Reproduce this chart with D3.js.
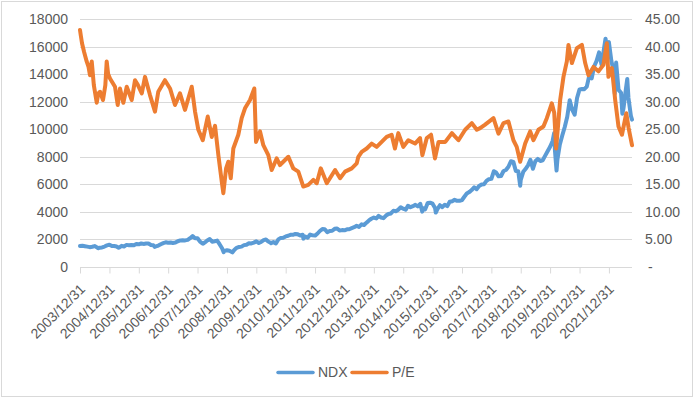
<!DOCTYPE html>
<html><head><meta charset="utf-8">
<script src="https://cdn.jsdelivr.net/npm/d3@7/dist/d3.min.js"></script>
<style>
body{margin:0;background:#fff}
text{font-family:"Liberation Sans",Arial,sans-serif;fill:#595959;font-size:14px}
</style>
</head><body>
<svg id="chart" width="694" height="398"></svg>
<script>
// ---- data (month "YYYY-MM" = month end; full dates for intra-month extremes) ----
const ndxDates = [
"2003-12",
"2004-01","2004-02","2004-03","2004-04","2004-05","2004-06","2004-07","2004-08-12","2004-08","2004-09","2004-10","2004-11","2004-12",
"2005-01","2005-02","2005-03","2005-04-20","2005-04","2005-05","2005-06","2005-07","2005-08","2005-09","2005-10","2005-11","2005-12",
"2006-01","2006-02","2006-03","2006-04","2006-05","2006-06","2006-07-17","2006-07","2006-08","2006-09","2006-10","2006-11","2006-12",
"2007-01","2007-02","2007-03","2007-04","2007-05","2007-06","2007-07","2007-08","2007-09","2007-10","2007-11","2007-12",
"2008-01","2008-02","2008-03-10","2008-03","2008-04","2008-05","2008-06","2008-07","2008-08","2008-09","2008-10","2008-11-20","2008-11","2008-12",
"2009-01","2009-02","2009-03-09","2009-03","2009-04","2009-05","2009-06","2009-07","2009-08","2009-09","2009-10","2009-11","2009-12",
"2010-01","2010-02","2010-03","2010-04","2010-05","2010-06","2010-07-02","2010-07","2010-08","2010-09","2010-10","2010-11","2010-12",
"2011-01","2011-02","2011-03","2011-04","2011-05","2011-06","2011-07","2011-08-08","2011-08","2011-09","2011-10","2011-11","2011-12",
"2012-01","2012-02","2012-03","2012-04","2012-05","2012-06","2012-07","2012-08","2012-09","2012-10","2012-11","2012-12",
"2013-01","2013-02","2013-03","2013-04","2013-05","2013-06","2013-07","2013-08","2013-09","2013-10","2013-11","2013-12",
"2014-01","2014-02","2014-03","2014-04","2014-05","2014-06","2014-07","2014-08","2014-09","2014-10","2014-11","2014-12",
"2015-01","2015-02","2015-03","2015-04","2015-05","2015-06","2015-07","2015-08-24","2015-08","2015-09","2015-10","2015-11","2015-12",
"2016-01","2016-02-09","2016-02","2016-03","2016-04","2016-05","2016-06","2016-07","2016-08","2016-09","2016-10","2016-11","2016-12",
"2017-01","2017-02","2017-03","2017-04","2017-05","2017-06","2017-07","2017-08","2017-09","2017-10","2017-11","2017-12",
"2018-01","2018-02","2018-03","2018-04","2018-05","2018-06","2018-07","2018-08","2018-09","2018-10","2018-11","2018-12-24","2018-12",
"2019-01","2019-02","2019-03","2019-04","2019-05","2019-06","2019-07","2019-08","2019-09","2019-10","2019-11","2019-12",
"2020-01","2020-02-19","2020-02","2020-03-20","2020-03","2020-04","2020-05","2020-06","2020-07","2020-08","2020-09","2020-10","2020-11","2020-12",
"2021-01","2021-02","2021-03","2021-04","2021-05","2021-06","2021-07","2021-08","2021-09","2021-10","2021-11-19","2021-11","2021-12",
"2022-01","2022-02","2022-03-14","2022-03","2022-04","2022-05","2022-06-16","2022-06","2022-07","2022-08-16","2022-08","2022-09","2022-10-14"
];
const ndxValues = [
1520,
1540,1510,1480,1440,1467,1517,1420,1360,1400,1420,1484,1566,1621,
1519,1519,1483,1400,1411,1534,1493,1605,1583,1601,1577,1669,1645,
1710,1676,1704,1701,1592,1575,1460,1489,1556,1654,1736,1793,1756,
1783,1746,1772,1870,1928,1934,1930,1967,2091,2239,2091,2085,
1840,1717,1690,1781,1929,2031,1837,1872,1916,1655,1357,1080,1172,1212,
1179,1095,1060,1237,1390,1455,1478,1587,1612,1718,1708,1770,1860,
1741,1816,1953,2000,1841,1740,1730,1806,1708,2003,2113,2127,2218,
2266,2335,2338,2402,2371,2288,2339,2060,2217,2129,2355,2296,2278,
2430,2614,2753,2741,2532,2616,2632,2772,2799,2646,2677,2661,
2731,2738,2818,2887,2987,2910,3096,3049,3219,3379,3502,3592,
3523,3710,3596,3546,3737,3850,3888,4082,4050,4158,4338,4236,
4152,4446,4333,4414,4509,4397,4588,4020,4275,4181,4648,4665,4593,
4279,3950,4202,4484,4341,4523,4418,4731,4772,4875,4801,4805,4864,
5119,5331,5436,5584,5788,5647,5880,5988,6005,6248,6373,6396,
6950,6856,6581,6605,6967,7040,7272,7677,7628,6967,6949,5900,6330,
6907,7108,7378,7781,7128,7672,7842,7693,7749,8084,8403,8733,
9151,9718,8462,7000,7813,8890,9556,10157,10905,12110,11418,11052,12268,12888,
12925,12909,13092,13861,13686,14554,14959,15582,14690,15850,16573,16135,16320,
14930,14237,12580,14838,12855,12643,11130,11504,12948,13650,12272,10971,10700
];
const peDates = [
"2003-12-31","2004-01-10","2004-01-25","2004-02-20","2004-03-23","2004-04-15","2004-05-03","2004-05-25","2004-06-20","2004-07-26",
"2004-08-15","2004-09-05","2004-10-12","2004-11-10","2004-11-27","2004-12-15","2005-01-07","2005-03-10","2005-04-13","2005-05-11",
"2005-06-22","2005-08-03","2005-10-04","2005-11-14","2005-12-20","2006-02-06","2006-03-18","2006-05-19","2006-07-20","2006-08-30",
"2006-11-21","2007-01-23","2007-03-26","2007-05-27","2007-07-28","2007-10-20","2007-11-30","2008-01-10","2008-03-05","2008-05-06",
"2008-06-25","2008-08-05","2008-09-15","2008-10-27","2008-11-16","2008-12-20","2009-01-17","2009-02-16","2009-03-20","2009-05-21",
"2009-07-02","2009-08-12","2009-10-13","2009-12-06","2009-12-27","2010-02-15","2010-03-28","2010-05-29","2010-07-10","2010-09-10",
"2010-10-21","2011-02-02","2011-04-04","2011-06-06","2011-08-07","2011-10-08","2011-12-10","2012-01-21","2012-03-11","2012-05-25",
"2012-09-05","2012-11-06","2013-01-07","2013-03-31","2013-06-01","2013-06-21","2013-08-02","2013-10-03","2013-12-04","2014-02-04",
"2014-04-07","2014-06-08","2014-08-09","2014-09-19","2014-10-31","2015-01-01","2015-03-04","2015-05-27","2015-07-28","2015-08-26",
"2015-10-20","2015-12-12","2016-01-30","2016-03-14","2016-06-06","2016-08-27","2016-11-17","2017-02-08","2017-05-02","2017-07-03",
"2017-08-13","2017-10-10","2018-01-26","2018-03-29","2018-05-30","2018-07-31","2018-10-01","2018-11-11","2018-12-24","2019-02-24",
"2019-04-27","2019-06-07","2019-08-08","2019-10-09","2019-11-20","2020-01-21","2020-02-20","2020-03-15","2020-05-04","2020-06-14",
"2020-07-26","2020-08-15","2020-09-27","2020-11-28","2021-01-29","2021-03-11","2021-04-21","2021-06-22","2021-08-23","2021-10-24",
"2021-12-05","2021-12-25","2022-02-06","2022-03-19","2022-04-29","2022-06-11","2022-08-04","2022-09-02","2022-10-14"
];
const peValues = [
43.0,42.0,40.6,39.0,37.3,36.3,34.8,37.3,33.0,29.8,
31.5,31.8,30.3,33.0,37.3,35.0,34.2,32.7,29.4,32.4,
29.8,32.7,30.3,33.9,33.0,31.5,34.5,31.2,28.2,31.8,
33.9,32.4,29.4,31.5,28.5,32.7,28.2,24.9,23.0,27.3,
23.6,25.6,20.3,15.5,13.4,17.9,19.1,16.1,21.5,24.0,
27.0,28.8,30.3,32.4,22.7,24.6,22.1,20.3,17.6,19.7,
18.5,20.0,17.9,17.3,14.6,14.9,15.8,15.2,17.9,15.2,
17.6,16.1,17.3,17.9,18.8,20.0,20.9,21.5,22.4,21.8,
22.7,23.6,24.0,21.5,24.3,21.8,23.0,22.4,23.4,20.3,
23.4,24.0,19.7,22.7,22.7,24.3,23.0,24.9,26.1,24.9,
25.2,25.8,27.0,24.2,26.1,26.4,23.0,21.8,19.1,22.4,
24.6,23.0,24.9,25.5,27.0,29.7,28.0,21.5,30.3,34.5,
37.3,40.3,37.0,39.7,40.3,37.0,34.8,36.3,35.5,36.7,
40.6,34.5,36.1,30.3,25.5,24.0,27.9,25.2,22.1
];
const leftTicks = [0,2000,4000,6000,8000,10000,12000,14000,16000,18000];
const rightTicks = [0,5,10,15,20,25,30,35,40,45];
const xTickDates = ["2003-12-31","2004-12-31","2005-12-31","2006-12-31","2007-12-31","2008-12-31","2009-12-31",
"2010-12-31","2011-12-31","2012-12-31","2013-12-31","2014-12-31","2015-12-31","2016-12-31","2017-12-31",
"2018-12-31","2019-12-31","2020-12-31","2021-12-31"];
const seriesNames = ["NDX","P/E"];
const seriesColors = ["#5B9BD5","#ED7D31"];

// ---- helpers ----
function parseD(s){
  if (s.length === 7){ const [y,m] = s.split("-").map(Number); return new Date(Date.UTC(y, m, 0)); }
  const [y,m,d] = s.split("-").map(Number); return new Date(Date.UTC(y, m-1, d));
}
const ndx = ndxDates.map((d,i)=>({date:parseD(d), v:ndxValues[i]})).sort((a,b)=>a.date-b.date);
const pe = peDates.map((d,i)=>({date:parseD(d), v:peValues[i]}));

const svg = d3.select("#chart");
const L = 80, R = 632, T = 19, B = 267;

svg.append("rect").attr("x",1.5).attr("y",1.5).attr("width",691).attr("height",395)
  .attr("fill","#fff").attr("stroke","#D9D9D9").attr("stroke-width",1);

const x = d3.scaleUtc().domain([parseD("2003-12-31"), parseD("2022-10-14")]).range([L, R]);
const yL = d3.scaleLinear().domain([0,18000]).range([B, T]);
const yR = d3.scaleLinear().domain([0,45]).range([B, T]);

// gridlines
svg.append("g").selectAll("line").data(leftTicks.slice(1)).join("line")
  .attr("x1",L).attr("x2",R).attr("y1",d=>Math.round(yL(d))+0.5).attr("y2",d=>Math.round(yL(d))+0.5)
  .attr("stroke","#D9D9D9").attr("stroke-width",1);

// left axis labels
const gl = svg.append("g").attr("transform",`translate(${L},0)`)
  .call(d3.axisLeft(yL).tickValues(leftTicks).tickSize(0).tickPadding(12).tickFormat(d3.format("d")));
gl.select(".domain").remove();
gl.selectAll("text").style("font-size","14px").attr("fill","#595959");

// right axis labels
const gr = svg.append("g").attr("transform",`translate(${R},0)`)
  .call(d3.axisRight(yR).tickValues(rightTicks).tickSize(0).tickPadding(13)
     .tickFormat(d=> d===0 ? "-" : d3.format(".2f")(d)));
gr.select(".domain").remove();
gr.selectAll("text").style("font-size","14px").attr("fill","#595959")
  .attr("dx", d=> d===0 ? 3 : 0);

// x axis
const xt = xTickDates.map(parseD);
const gx = svg.append("g").attr("transform",`translate(0,${B+0.5})`)
  .call(d3.axisBottom(x).tickValues(xt).tickSize(6).tickFormat(d3.utcFormat("%Y/%m/%d")));
gx.select(".domain").attr("stroke","#D9D9D9").attr("d",`M${L},0H${R}`);
gx.selectAll(".tick line").attr("stroke","#D9D9D9");
gx.selectAll(".tick text")
  .style("font-size","14px").attr("fill","#595959")
  .attr("text-anchor","end").attr("y",0).attr("dy","0.35em")
  .attr("transform","translate(2,19) rotate(-45)");

// lines
const lineL = d3.line().x(d=>x(d.date)).y(d=>yL(d.v)).curve(d3.curveLinear);
const lineR = d3.line().x(d=>x(d.date)).y(d=>yR(d.v)).curve(d3.curveLinear);
svg.append("path").datum(ndx).attr("d",lineL).attr("fill","none")
  .attr("stroke",seriesColors[0]).attr("stroke-width",4).attr("stroke-linejoin","round").attr("stroke-linecap","round");
svg.append("path").datum(pe).attr("d",lineR).attr("fill","none")
  .attr("stroke",seriesColors[1]).attr("stroke-width",4).attr("stroke-linejoin","round").attr("stroke-linecap","round");

// legend
const legendX = [278, 352];
const lg = svg.append("g").selectAll("g").data(seriesNames).join("g")
  .attr("transform",(d,i)=>`translate(${legendX[i]},372.5)`);
lg.append("line").attr("x1",0).attr("x2",35).attr("y1",0).attr("y2",0)
  .attr("stroke",(d,i)=>seriesColors[i]).attr("stroke-width",3.5).attr("stroke-linecap","round");
lg.append("text").attr("x",40).attr("y",0).attr("dy","0.35em").style("font-size","14px").text(d=>d);
</script>
</body></html>
